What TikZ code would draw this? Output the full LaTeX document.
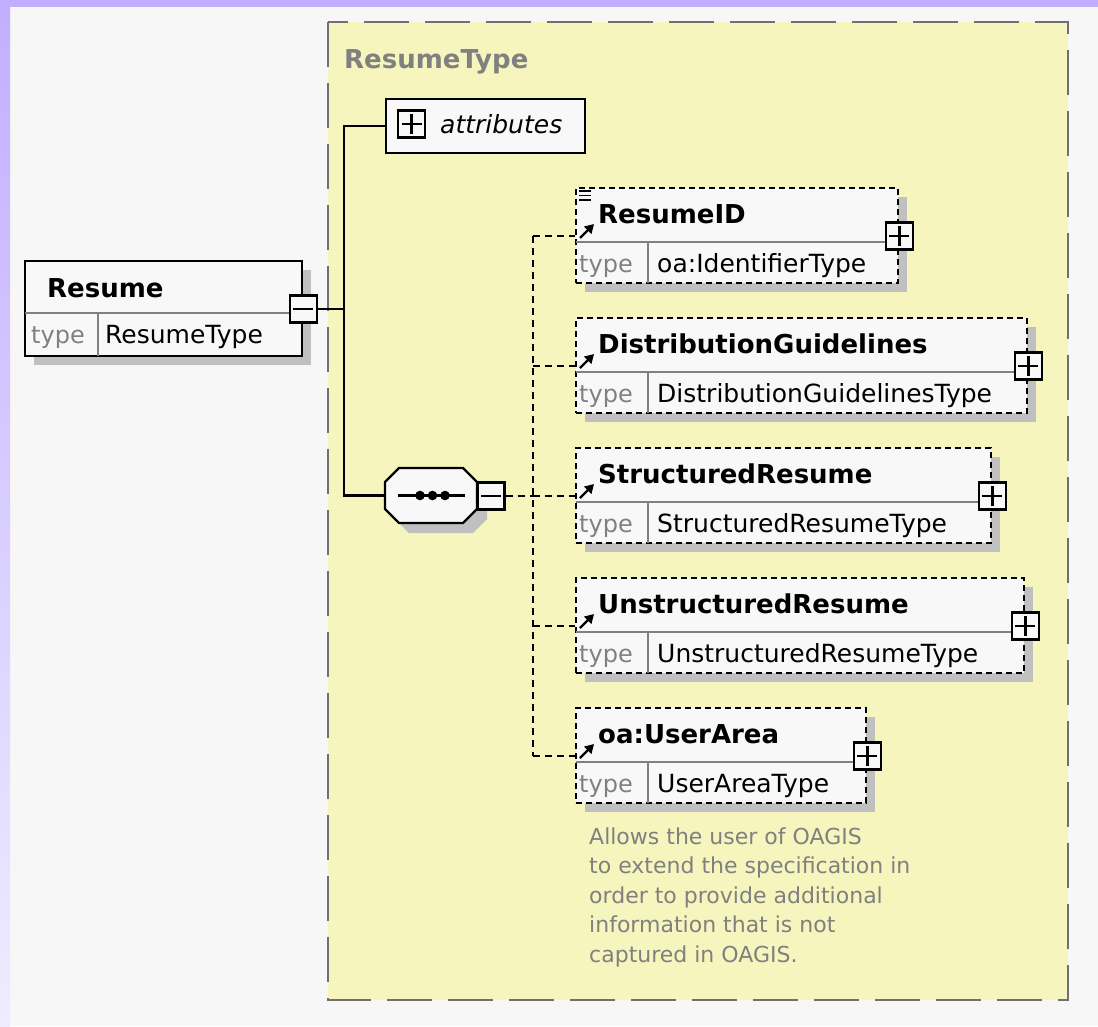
\documentclass[tikz,border=0pt]{standalone}
\usepackage{fontspec}
\setmainfont{DejaVu Sans}
\usetikzlibrary{arrows.meta,calc}
\definecolor{bg}{RGB}{247,247,247}
\definecolor{ylw}{RGB}{246,245,190}
\definecolor{boxfill}{RGB}{248,248,248}
\definecolor{shad}{RGB}{192,192,192}
\definecolor{txtgray}{RGB}{128,128,128}
\definecolor{framegray}{RGB}{112,112,112}
\definecolor{purpA}{RGB}{194,174,255}
\definecolor{purpB}{RGB}{238,236,255}
\newcommand\ftitle{\fontsize{26}{30}\selectfont\bfseries}
\newcommand\ftype{\fontsize{25}{30}\selectfont}
\newcommand\flabel{\fontsize{24}{30}\selectfont}
\newcommand\fdesc{\fontsize{22}{29}\selectfont}
\tikzset{
  elbox/.style={draw=black, line width=2.4pt, dash pattern=on 6pt off 4pt, fill=boxfill, inner sep=0pt, anchor=north west},
  solidbox/.style={draw=black, line width=2.4pt, fill=boxfill, inner sep=0pt, anchor=north west},
  sepline/.style={draw=txtgray, line width=2pt},
  pm/.style={draw=black, line width=2.4pt, fill=boxfill, minimum size=27pt, inner sep=0pt},
  pmline/.style={draw=black, line width=2.2pt},
  conn/.style={draw=black, line width=2.4pt},
  dconn/.style={draw=black, line width=2.4pt, dash pattern=on 7pt off 5pt},
  ttl/.style={anchor=base west, inner sep=0pt, font=\ftitle},
  typ/.style={anchor=base west, inner sep=0pt, font=\ftype},
  lbl/.style={anchor=base west, inner sep=0pt, font=\flabel, text=txtgray},
  desc/.style={anchor=base west, inner sep=0pt, font=\fdesc, text=txtgray},
  arr/.style={draw=black, line width=2.4pt, -{Triangle[length=9pt,width=10pt]}},
}
% name, left, top, right, title, type
\newcommand\xelem[6]{%
  \fill[shad] ({#2+10},{#3+10}) rectangle ({#4+10},{#3+105});
  \node[elbox, minimum width={(#4-#2)*1pt}, minimum height=95pt] (#1) at (#2,#3) {};
  \draw[sepline] ($(#1.north west)+(1,55)$) -- ($(#1.north east)+(-1,55)$);
  \draw[sepline] ($(#1.north west)+(73,55)$) -- ($(#1.south west)+(73,-1)$);
  \node[ttl] (#1-t) at ($(#1.north west)+(23,36)$) {#5};
  \node[lbl] (#1-l) at ($(#1.north west)+(4,85)$) {type};
  \node[typ] (#1-v) at ($(#1.north west)+(82,85)$) {#6};
  \node[pm] (#1-p) at ($(#1.north east)+(0,49)$) {};
  \draw[pmline] ($(#1-p.center)+(-10,0)$) -- ($(#1-p.center)+(10,0)$);
  \draw[pmline] ($(#1-p.center)+(0,-10)$) -- ($(#1-p.center)+(0,10)$);
  \draw[arr] ($(#1.north west)+(5,51)$) -- ($(#1.north west)+(19,37)$);
  \coordinate (#1-in) at ($(#1.north west)+(0,49)$);
}
\begin{document}
\begin{tikzpicture}[x=1pt,y=-1pt]
\useasboundingbox (0,0) rectangle (1098,1026);
% background
\fill[bg] (0,0) rectangle (1098,1026);
\shade[top color=purpA, bottom color=purpB] (0,0) rectangle (10,1026);
\fill[purpA] (0,0) rectangle (1098,7);
% complex type container
\draw[draw=framegray, line width=2.4pt, dash pattern=on 45pt off 16pt, fill=ylw] (328,22) rectangle (1068,1000);
\node[ttl, text=txtgray] (rtitle) at (344,68) {ResumeType};

% Resume element
\fill[shad] (34,270) rectangle (311,365);
\node[solidbox, minimum width=277pt, minimum height=95pt] (resume) at (24,260) {};
\draw[sepline] ($(resume.north west)+(1,53)$) -- ($(resume.north east)+(-1,53)$);
\draw[sepline] ($(resume.north west)+(74,53)$) -- ($(resume.south west)+(74,-1)$);
\node[ttl] (resume-t) at ($(resume.north west)+(23,37)$) {Resume};
\node[lbl] (resume-l) at ($(resume.north west)+(7,83)$) {type};
\node[typ] (resume-v) at ($(resume.north west)+(81,83)$) {ResumeType};
\node[pm] (resm) at ($(resume.north east)+(0,49)$) {};
\draw[pmline] ($(resm.center)+(-10,0)$) -- ($(resm.center)+(10,0)$);

% attributes
\node[solidbox, minimum width=199pt, minimum height=54pt] (attr) at (385,98) {};
\node[pm] (attrp) at (411.5,124) {};
\draw[pmline] ($(attrp.center)+(-10,0)$) -- ($(attrp.center)+(10,0)$);
\draw[pmline] ($(attrp.center)+(0,-10)$) -- ($(attrp.center)+(0,10)$);
\node[anchor=base west, inner sep=0pt, font=\ftype\itshape] (attr-t) at (440,133) {attributes};

% sequence compositor
\fill[shad] (395,492) -- (409,478) -- (473,478) -- (487,492) -- (487,519) -- (473,533) -- (409,533) -- (395,519) -- cycle;
\node[inner sep=0pt, minimum width=92pt, minimum height=55pt] (seq) at (431,495.5) {};
\draw[draw=black, line width=2.4pt, fill=boxfill] (385,482) -- (399,468) -- (463,468) -- (477,482) -- (477,509) -- (463,523) -- (399,523) -- (385,509) -- cycle;
\draw[line width=2.2pt] (398,495.5) -- (465,495.5);
\foreach \dx in {420,432.5,445} \fill (\dx,495.5) circle (4.8);
\node[pm] (seqm) at (491,496) {};
\draw[pmline] ($(seqm.center)+(-10,0)$) -- ($(seqm.center)+(10,0)$);

% solid connectors
\coordinate (trunk) at (344,0);
\draw[conn] (resm.east) -- (resm.east -| trunk);
\draw[conn] (attr.west) -- (attr.west -| trunk) -- (seq.west -| trunk) -- (seq.west);

% child elements
\coordinate (bus) at (533,496);
\coordinate (rid-in0) at (575,236);
\coordinate (ua-in0) at (575,756);
\draw[dconn] (seqm.east) -- (seqm.east -| bus);
\draw[dconn] (bus |- rid-in0) -- (bus |- ua-in0);
\foreach \y in {236,366,496,626,756} \draw[dconn] (533,\y) -- (575,\y);

\xelem{rid}{575}{187}{897}{ResumeID}{oa:IdentifierType}
\xelem{dg}{575}{317}{1026}{DistributionGuidelines}{DistributionGuidelinesType}
\xelem{sr}{575}{447}{990}{StructuredResume}{StructuredResumeType}
\xelem{ur}{575}{577}{1023}{UnstructuredResume}{UnstructuredResumeType}
\xelem{ua}{575}{707}{865}{oa:UserArea}{UserAreaType}

% list icon on ResumeID
\foreach \yy in {191,195.5,200} \draw[line width=1.5pt] (579,\yy) -- (591,\yy);

% description
\node[desc] (d1) at (589,844) {Allows the user of OAGIS};
\node[desc] (d2) at (589,873.5) {to extend the specification in};
\node[desc] (d3) at (589,903) {order to provide additional};
\node[desc] (d4) at (589,932.5) {information that is not};
\node[desc] (d5) at (589,962) {captured in OAGIS.};
\end{tikzpicture}
\end{document}
